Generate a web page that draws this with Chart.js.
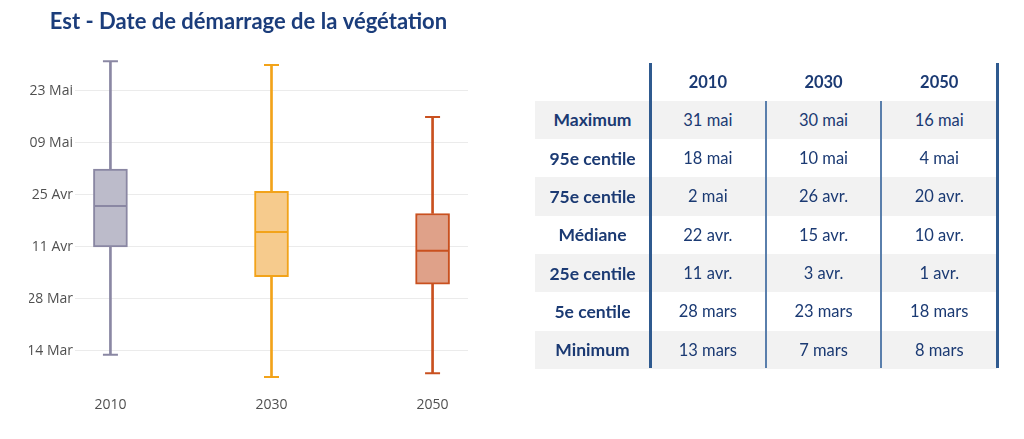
<!DOCTYPE html>
<html>
<head>
<meta charset="utf-8">
<script src="https://cdn.jsdelivr.net/npm/chart.js@4"></script>
<style>
  html, body { margin: 0; padding: 0; background: #ffffff; }
  body { width: 1024px; height: 439px; position: relative; overflow: hidden; }
  #chartBox { position: absolute; left: 0; top: 0; width: 520px; height: 439px; }
  #tbl { position: absolute; left: 0; top: 0; width: 1024px; height: 439px; font-family: Lato, "Noto Sans", sans-serif; color: #1b3a73; }
  .cell { position: absolute; display: flex; align-items: center; justify-content: center; font-size: 16.5px; white-space: nowrap; }
  .lab { font-weight: 700; font-size: 17.5px; }
  .hdr { font-weight: 700; font-size: 16.5px; }
  .band { position: absolute; background: #f2f2f2; }
  .vline { position: absolute; }
</style>
</head>
<body>
<div id="chartBox"><canvas id="c"></canvas></div>
<div id="tbl"></div>
<script>
// ---- data ----
const categories = ['2010', '2030', '2050'];
// day of year (non leap year): 1 mars = 60, 1 avr = 91, 1 mai = 121
const maximum = [151, 150, 136];
const p95     = [138, 130, 124];
const q3      = [122, 116, 110];
const median  = [112, 105, 100];
const q1      = [101,  93,  91];
const p5      = [ 87,  82,  77];
const minimum = [ 72,  66,  67];
const tickDays   = [73, 87, 101, 115, 129, 143];
const tickLabels = ['14 Mar', '28 Mar', '11 Avr', '25 Avr', '09 Mai', '23 Mai'];
const rowLabels  = ['Maximum', '95e centile', '75e centile', 'Médiane', '25e centile', '5e centile', 'Minimum'];
const titleText  = 'Est - Date de démarrage de la végétation';

const borderColors = ['#8a87a3', '#f2a31a', '#c9501f'];
const fillColors   = ['#bcbbca', '#f6cb8d', '#dfa189'];

// ---- table ----
const frMonths = ['janv.', 'févr.', 'mars', 'avr.', 'mai', 'juin'];
const monthStarts = [1, 32, 60, 91, 121, 152];
function fmt(d) {
  let m = 0;
  for (let i = 0; i < monthStarts.length; i++) if (d >= monthStarts[i]) m = i;
  return (d - monthStarts[m] + 1) + ' ' + frMonths[m];
}
(function buildTable() {
  const t = document.getElementById('tbl');
  const rows = [maximum, p95, q3, median, q1, p5, minimum];
  const x0 = 535, labW = 115, colW = 115.7, top = 63, hdrH = 37.7, rowH = 38.3;
  const right = x0 + labW + 3 * colW;
  const add = (cls, css, txt) => {
    const d = document.createElement('div');
    d.className = cls;
    Object.assign(d.style, css);
    if (txt !== undefined) d.textContent = txt;
    t.appendChild(d);
    return d;
  };
  rows.forEach((r, i) => {
    const y = top + hdrH + i * rowH;
    if (i % 2 === 0) add('band', { left: x0 + 'px', top: y + 'px', width: (right - x0) + 'px', height: rowH + 'px' });
    add('cell lab', { left: x0 + 'px', top: y + 'px', width: labW + 'px', height: rowH + 'px' }, rowLabels[i]);
    r.forEach((v, j) => {
      add('cell', { left: (x0 + labW + j * colW) + 'px', top: y + 'px', width: colW + 'px', height: rowH + 'px' }, fmt(v));
    });
  });
  categories.forEach((c, j) => {
    add('cell hdr', { left: (x0 + labW + j * colW) + 'px', top: top + 'px', width: colW + 'px', height: hdrH + 'px' }, c);
  });
  const bottom = top + hdrH + rows.length * rowH - 1;
  add('vline', { left: (x0 + labW - 1) + 'px', top: top + 'px', width: '2.5px', height: (bottom - top) + 'px', background: '#2f5a8f' });
  add('vline', { left: (right - 1) + 'px', top: top + 'px', width: '2.5px', height: (bottom - top) + 'px', background: '#2f5a8f' });
  for (let j = 1; j < 3; j++) {
    add('vline', { left: (x0 + labW + j * colW - 1) + 'px', top: (top + hdrH) + 'px', width: '2px', height: (bottom - top - hdrH) + 'px', background: '#5a7fac' });
  }
})();

// ---- chart ----
const idx = categories.map((_, i) => i);
const pts = (arr) => arr.map((v, i) => ({ x: i, y: v }));
const rng = (a, b) => a.map((v, i) => ({ x: i, y: [v, b[i]] }));

function draw() {
  new Chart(document.getElementById('c'), {
    type: 'bar',
    data: {
      datasets: [
        { type: 'scatter', data: pts(median), pointStyle: 'line', pointRadius: 16, borderWidth: 2,
          borderColor: borderColors, backgroundColor: borderColors, order: 0 },
        { type: 'bar', data: rng(q1, q3), barThickness: 34, borderWidth: 2, borderSkipped: false,
          borderColor: borderColors, backgroundColor: fillColors, grouped: false, order: 1 },
        { type: 'bar', data: rng(minimum, q1), barThickness: 2, borderWidth: 0,
          backgroundColor: borderColors, grouped: false, order: 2 },
        { type: 'bar', data: rng(q3, maximum), barThickness: 2, borderWidth: 0,
          backgroundColor: borderColors, grouped: false, order: 2 },
        { type: 'scatter', data: pts(maximum), pointStyle: 'line', pointRadius: 7.5, borderWidth: 2,
          borderColor: borderColors, order: 2 },
        { type: 'scatter', data: pts(minimum), pointStyle: 'line', pointRadius: 7.5, borderWidth: 2,
          borderColor: borderColors, order: 2 }
      ]
    },
    options: {
      responsive: true,
      maintainAspectRatio: false,
      animation: false,
      events: [],
      layout: { padding: { left: 29, right: 52, top: 0, bottom: 0 } },
      plugins: {
        legend: { display: false },
        tooltip: { enabled: false },
        title: {
          display: true,
          text: titleText,
          color: '#1b3d7b',
          font: { family: 'Lato', size: 22, weight: 'bold', lineHeight: 1.2 },
          padding: { top: 9, bottom: 11 }
        }
      },
      scales: {
        x: {
          type: 'linear',
          offset: false,
          min: -0.22,
          max: 2.22,
          grid: { display: false, drawTicks: false, offset: false },
          border: { display: false },
          afterBuildTicks: (s) => { s.ticks = idx.map(v => ({ value: v })); },
          afterFit: (s) => { s.height = 47.2; },
          ticks: {
            padding: 5,
            color: '#505050',
            font: { family: 'Open Sans', size: 14 },
            callback: (v) => categories[v]
          }
        },
        y: {
          type: 'linear',
          min: 62,
          max: 155,
          grid: { color: '#ebebeb', lineWidth: 1, drawTicks: false },
          border: { display: false },
          afterBuildTicks: (s) => { s.ticks = tickDays.map(v => ({ value: v })); },
          afterFit: (s) => { s.width = 46; },
          ticks: {
            padding: 2,
            color: '#505050',
            font: { family: 'Open Sans', size: 14 },
            callback: (v) => tickLabels[tickDays.indexOf(v)]
          }
        }
      }
    }
  });
}
Promise.all([
  document.fonts.load('bold 22px Lato'),
  document.fonts.load('14px "Open Sans"')
]).then(draw, draw);
</script>
</body>
</html>
